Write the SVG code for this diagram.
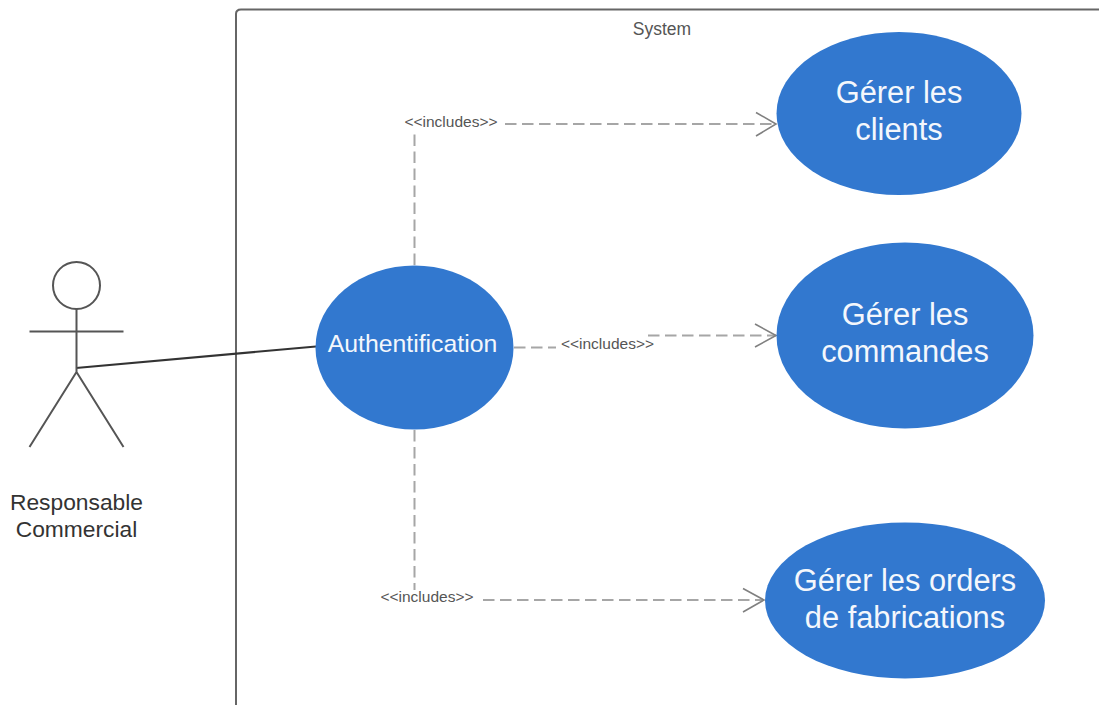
<svg xmlns="http://www.w3.org/2000/svg" width="1099" height="705" viewBox="0 0 1099 705">
<defs>
<style>
text{font-family:"Liberation Sans",Arial,sans-serif}
.uc{fill:#3278cf}
.ut{fill:#f4f7fc;font-size:30.800px;text-anchor:middle}
.lb{fill:#555;font-size:15.500px;text-anchor:middle}
.dash{fill:none;stroke:#a6a6a6;stroke-width:2;stroke-dasharray:11.500 5.500}
.head{fill:none;stroke:#808080;stroke-width:1.600}
.stick{fill:none;stroke:#555;stroke-width:2}
</style>
</defs>
<rect width="1099" height="705" fill="#fff"/>
<g id="system">
<path d="M236 706V14Q236 9.500 241 9.500H1100" fill="none" stroke="#666" stroke-width="2"/>
<text x="662" y="35" font-size="17.500" fill="#555" text-anchor="middle">System</text>
</g>
<g id="connectors">
<path class="dash" d="M414.500 265V134"/>
<path class="dash" d="M505 124H776"/>
<path class="head" d="M756 112.500L776 124L756 136"/>
<path class="dash" d="M514 347.500H556"/>
<path class="dash" d="M648 335.500H776"/>
<path class="head" d="M755 324L776 335.500L755 347"/>
<path class="dash" d="M414.500 430V590"/>
<path class="dash" d="M483 600H764"/>
<path class="head" d="M743 588.500L764 600L743 612"/>
<path d="M76 368L316 346.500" fill="none" stroke="#333" stroke-width="2"/>
</g>
<g id="label-clients"><text class="lb" x="451" y="127">&lt;&lt;includes&gt;&gt;</text></g>
<g id="label-commandes"><text class="lb" x="607.500" y="349">&lt;&lt;includes&gt;&gt;</text></g>
<g id="label-orders"><text class="lb" x="427" y="602">&lt;&lt;includes&gt;&gt;</text></g>
<g id="actor">
<circle class="stick" cx="76.500" cy="285.500" r="23.500"/>
<path class="stick" d="M76.500 309V372M29.500 331.500H123.500M76.500 372L29.500 447M76.500 372L123.500 447"/>
<text x="76.500" y="510" font-size="22.800" fill="#333" text-anchor="middle">Responsable</text>
<text x="76.500" y="537" font-size="22.800" fill="#333" text-anchor="middle">Commercial</text>
</g>
<g id="authentification">
<ellipse class="uc" cx="414.500" cy="347.500" rx="99" ry="82"/>
<text x="412.500" y="352" fill="#f4f7fc" font-size="24.800" text-anchor="middle">Authentification</text>
</g>
<g id="gerer-clients">
<ellipse class="uc" cx="899" cy="113.500" rx="122.500" ry="81.500"/>
<text class="ut" x="899" y="103">Gérer les</text>
<text class="ut" x="899" y="140">clients</text>
</g>
<g id="gerer-commandes">
<ellipse class="uc" cx="905" cy="335.500" rx="128.500" ry="93"/>
<text class="ut" x="905" y="325">Gérer les</text>
<text class="ut" x="905" y="362">commandes</text>
</g>
<g id="gerer-orders">
<ellipse class="uc" cx="905" cy="600.500" rx="140" ry="78"/>
<text class="ut" x="905" y="591">Gérer les orders</text>
<text class="ut" x="905" y="628">de fabrications</text>
</g>
</svg>
